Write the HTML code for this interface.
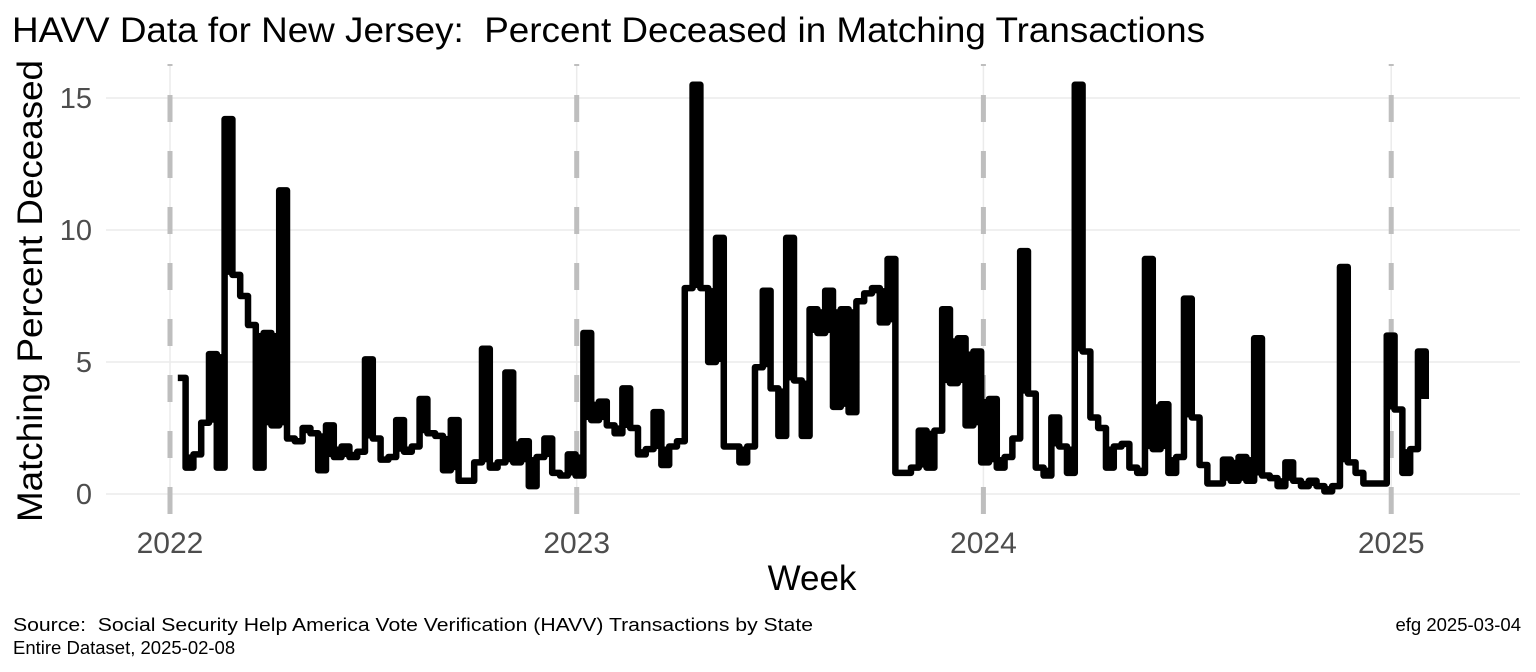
<!DOCTYPE html>
<html><head><meta charset="utf-8"><style>
html,body{margin:0;padding:0;background:#fff;}
svg{display:block;font-family:"Liberation Sans",Arial,sans-serif;}
text{white-space:pre;}
</style></head><body>
<svg id="chart" width="1536" height="672" viewBox="0 0 1536 672">
<defs><clipPath id="panel"><rect x="106" y="64" width="1414" height="450"/></clipPath></defs>
<g id="grid"></g>
<g id="dashes" clip-path="url(#panel)"></g>
<g id="series"></g>
<g id="yticks"></g>
<g id="xticks"></g>
<text x="12" y="42" font-size="35" textLength="1193" lengthAdjust="spacingAndGlyphs" fill="#000" xml:space="preserve">HAVV Data for New Jersey:  Percent Deceased in Matching Transactions</text>
<text transform="translate(42,291) rotate(-90)" text-anchor="middle" font-size="35" textLength="462" lengthAdjust="spacingAndGlyphs" fill="#000">Matching Percent Deceased</text>
<text x="812" y="590" text-anchor="middle" font-size="35" fill="#000">Week</text>
<text x="13" y="631" font-size="18.5" textLength="800" lengthAdjust="spacingAndGlyphs" fill="#000" xml:space="preserve">Source:  Social Security Help America Vote Verification (HAVV) Transactions by State</text>
<text x="13" y="654" font-size="18.5" fill="#000">Entire Dataset, 2025-02-08</text>
<text x="1521" y="631" font-size="18.5" text-anchor="end" fill="#000">efg 2025-03-04</text>
</svg>
<script>
const startDate = "2022-01-08";
const weeklyValues = [4.4,1.0,1.5,2.7,5.3,1.0,14.2,8.3,7.5,6.4,1.0,6.1,2.6,11.5,2.1,2.0,2.5,2.3,0.9,2.6,1.4,1.8,1.4,1.6,5.1,2.1,1.3,1.4,2.8,1.6,1.8,3.6,2.3,2.2,0.9,2.8,0.5,0.5,1.2,5.5,1.0,1.2,4.6,1.2,2.0,0.3,1.4,2.1,0.8,0.7,1.5,0.7,
6.1,2.8,3.5,2.6,2.3,4.0,2.5,1.5,1.7,3.1,1.1,1.8,2.0,7.8,15.5,7.8,5.0,9.7,1.8,1.8,1.2,1.8,4.8,7.7,4.0,2.2,9.7,4.3,2.2,7.0,6.1,7.7,3.3,7.0,3.1,7.3,7.6,7.8,6.5,8.9,0.8,0.8,1.0,2.4,1.0,2.4,7.0,4.2,5.9,2.6,5.4,
1.2,3.6,1.0,1.4,2.1,9.2,3.8,1.0,0.7,2.9,1.8,0.8,15.5,5.4,2.9,2.5,1.0,1.8,1.9,1.0,0.8,8.9,1.7,3.4,0.8,1.4,7.4,2.9,1.1,0.4,0.4,1.3,0.5,1.4,0.5,5.9,0.7,0.6,0.3,1.2,0.5,0.3,0.5,0.3,0.1,0.3,8.6,1.2,0.8,0.4,0.4,0.4,6.0,3.2,0.8,1.7,5.4,3.6];
const yTicks = [0,5,10,15];
const yearTicks = [2022,2023,2024,2025];

const NS="http://www.w3.org/2000/svg";
const t0 = Date.UTC(2022,0,1);
function dayOf(d){return (d - t0)/86400000;}
function xScale(days){return 170 + days*(406.7/365);}
function yScale(v){return 494 - v*26.4;}
function mk(tag,attrs,parent){const e=document.createElementNS(NS,tag);for(const k in attrs)e.setAttribute(k,attrs[k]);parent.appendChild(e);return e;}

const grid=document.getElementById('grid');
yTicks.forEach(v=>{
  const l=mk('line',{x1:106,x2:1520,y1:yScale(v),y2:yScale(v),stroke:'#ebebeb','stroke-width':1.5},grid);
  
  
  const t=mk('text',{x:92,y:yScale(v)+10,'text-anchor':'end','font-size':29,fill:'#4d4d4d'},document.getElementById('yticks'));
  t.textContent=v;
  
  
});
yearTicks.forEach(yr=>{
  const x=xScale(dayOf(Date.UTC(yr,0,1)));
  const l=mk('line',{x1:x,x2:x,y1:64,y2:514,stroke:'#ebebeb','stroke-width':1.5},grid);
  
  
  const d=mk('line',{x1:x,x2:x,y1:39,y2:514,stroke:'#bebebe','stroke-width':5,'stroke-dasharray':'27 29'},document.getElementById('dashes'));
  
  
  const t=mk('text',{x:x,y:553,'text-anchor':'middle','font-size':30,fill:'#4d4d4d'},document.getElementById('xticks'));
  t.textContent=yr;
  
  
});
const s0=Date.parse(startDate+"T00:00:00Z");
const series=document.getElementById('series');
const xs=weeklyValues.map((v,i)=>xScale(dayOf(s0+i*7*86400000)));
weeklyValues.forEach((v,i)=>{
  if(i===0||i>=weeklyValues.length-1) return;
  const a=weeklyValues[i-1], b=weeklyValues[i+1];
  let lo=null, hi=null;
  if(v>a&&v>b){hi=v;lo=Math.max(a,b);}
  else if(v<a&&v<b){lo=v;hi=Math.min(a,b);}
  if(lo===null) return;
  const r=mk('rect',{x:xs[i],y:yScale(hi),width:xs[i+1]-xs[i],height:yScale(lo)-yScale(hi),fill:'#000'},series);
  
  
});
let d="";
weeklyValues.forEach((v,i)=>{
  const x=xs[i].toFixed(2), y=yScale(v).toFixed(2);
  if(i===0) d+=`M${x},${y}`; else d+=`H${x}V${y}`;
});
const p=mk('path',{d:d,fill:'none',stroke:'#000','stroke-width':6.5,'stroke-linejoin':'round','stroke-linecap':'butt'},series);


</script>
</body></html>
